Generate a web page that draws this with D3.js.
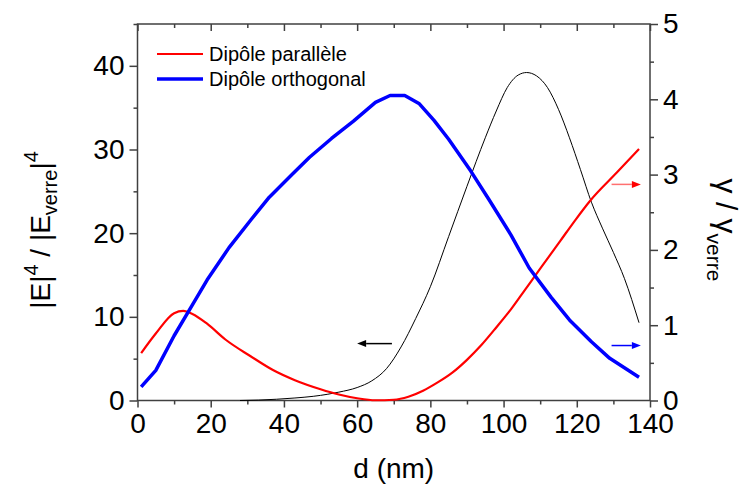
<!DOCTYPE html>
<html><head><meta charset="utf-8">
<script src="https://cdn.jsdelivr.net/npm/d3@7/dist/d3.min.js"></script>
<style>
body{margin:0;background:#fff;}
svg{display:block;font-family:"Liberation Sans",Arial,sans-serif;}
</style></head>
<body>
<svg id="chart" width="746" height="489"></svg>
<script>
// ---- data ----
const xTicks = [0,20,40,60,80,100,120,140];
const xMinor = [10,30,50,70,90,110,130];
const yLeftTicks = [0,10,20,30,40];
const yLeftMinor = [5,15,25,35,45];
const yRightTicks = [0,1,2,3,4,5];
const yRightMinor = [0.5,1.5,2.5,3.5,4.5];

// |E|^4/|Everre|^4 (left axis, black)
const fieldD = [28,33,38,43,48,52,55,60,64,68,72,76,80,85,90,95,98,101,104,106.3,109,112,115,118,121,124,127,130,133,137];
const fieldV = [0,0.05,0.15,0.3,0.5,0.75,1.0,1.55,2.35,3.8,6.4,9.8,13.6,19.6,25.6,31.4,34.6,37.4,38.9,39.2,38.8,37.4,34.8,31.4,27.6,23.7,20.6,17.7,14.6,9.3];

// gamma/gamma_verre, dipole parallel (right axis, red)
const paraD = [1,5,10,12.5,15,19,24,31,37,43,50,55,60,65,70,74,78,82,86,90,94,98,102,106,110,115.5,119.5,123.6,131,137];
const paraV = [0.63,0.89,1.16,1.19,1.15,1.02,0.81,0.585,0.405,0.27,0.15,0.08,0.03,0.003,0.01,0.05,0.13,0.24,0.37,0.54,0.74,0.97,1.21,1.48,1.75,2.12,2.39,2.65,3.03,3.34];

// gamma/gamma_verre, dipole orthogonal (right axis, blue)
const orthD = [1,5,10,15,19,25,31,36,42,47,53,59,65,69,73,77,81,85,91,96,102,107,113,118,124,129,137];
const orthV = [0.18,0.40,0.86,1.27,1.60,2.03,2.40,2.70,2.99,3.23,3.48,3.71,3.96,4.05,4.05,3.94,3.72,3.47,3.05,2.67,2.20,1.76,1.37,1.07,0.78,0.56,0.31];

const legendLabels = ["Dipôle parallèle","Dipôle orthogonal"];

// ---- layout ----
const svg = d3.select("#chart");
const L = 137.5, R = 650, T = 24, B = 400.5;
const x = d3.scaleLinear().domain([0,140]).range([L,R]);
const yL = d3.scaleLinear().domain([0,45]).range([B,T]);
const yR = d3.scaleLinear().domain([0,5]).range([B,T]);
const axisColor = "#404040";
const tickFont = 28;

function styleAxis(g){
  g.select(".domain").remove();
  g.selectAll(".tick line").attr("stroke",axisColor).attr("stroke-width",1.5);
  g.selectAll(".tick text").attr("fill","#000").attr("font-size",tickFont).attr("font-family","Liberation Sans, Arial, sans-serif");
}

// bottom
svg.append("g").attr("transform",`translate(0,${B})`)
  .call(d3.axisBottom(x).tickValues(xTicks).tickSize(7).tickPadding(6).tickFormat(d3.format("d"))).call(styleAxis);
svg.append("g").attr("transform",`translate(0,${B})`)
  .call(d3.axisBottom(x).tickValues(xMinor).tickSize(4).tickFormat("")).call(styleAxis);
// top (inward, no labels)
svg.append("g").attr("transform",`translate(0,${T})`)
  .call(d3.axisTop(x).tickValues(xTicks).tickSize(-7).tickFormat("")).call(styleAxis);
svg.append("g").attr("transform",`translate(0,${T})`)
  .call(d3.axisTop(x).tickValues(xMinor).tickSize(-4).tickFormat("")).call(styleAxis);
// left
svg.append("g").attr("transform",`translate(${L},0)`)
  .call(d3.axisLeft(yL).tickValues(yLeftTicks).tickSize(8).tickPadding(5).tickFormat(d3.format("d"))).call(styleAxis);
svg.append("g").attr("transform",`translate(${L},0)`)
  .call(d3.axisLeft(yL).tickValues(yLeftMinor).tickSize(4).tickFormat("")).call(styleAxis);
// right
svg.append("g").attr("transform",`translate(${R},0)`)
  .call(d3.axisRight(yR).tickValues(yRightTicks).tickSize(8).tickPadding(5).tickFormat(d3.format("d"))).call(styleAxis);
svg.append("g").attr("transform",`translate(${R},0)`)
  .call(d3.axisRight(yR).tickValues(yRightMinor).tickSize(4).tickFormat("")).call(styleAxis);

// frame
svg.append("rect").attr("x",L).attr("y",T).attr("width",R-L).attr("height",B-T)
  .attr("fill","none").attr("stroke",axisColor).attr("stroke-width",1.5);

// ---- curves ----
svg.append("defs").append("clipPath").attr("id","clip")
  .append("rect").attr("x",L).attr("y",T-2).attr("width",R-L).attr("height",B-T+4);
const plot = svg.append("g").attr("clip-path","url(#clip)");

const lineField = d3.line().x((d,i)=>x(fieldD[i])).y(d=>yL(d)).curve(d3.curveMonotoneX);
const linePara = d3.line().x((d,i)=>x(paraD[i])).y(d=>yR(d)).curve(d3.curveMonotoneX);
const lineOrth = d3.line().x((d,i)=>x(orthD[i])).y(d=>yR(d)).curve(d3.curveLinear);

plot.append("path").attr("d",lineField(fieldV)).attr("fill","none").attr("stroke","#000").attr("stroke-width",1);
plot.append("path").attr("d",linePara(paraV)).attr("fill","none").attr("stroke","#ff0000").attr("stroke-width",2.2);
plot.append("path").attr("d",lineOrth(orthV)).attr("fill","none").attr("stroke","#0000ff").attr("stroke-width",3.5).attr("stroke-linejoin","round");

// ---- arrows (annotations in data units) ----
const arrows = [
  {from:[69.5,6.8/9], to:[60,6.8/9], line:"#000", head:"#000"},
  {from:[129.5,2.87], to:[137.5,2.87], line:"#ff7070", head:"#ff0000"},
  {from:[129.5,0.73], to:[137.5,0.73], line:"#0000ff", head:"#0000ff"}
];
arrows.forEach(a=>{
  const x1=x(a.from[0]), y1=yR(a.from[1]), x2=x(a.to[0]), y2=yR(a.to[1]);
  const dir = Math.sign(x2-x1), hl=9, hw=3.5;
  svg.append("line").attr("x1",x1).attr("y1",y1).attr("x2",x2-dir*hl).attr("y2",y2)
    .attr("stroke",a.line).attr("stroke-width",1.5);
  svg.append("path").attr("d",`M${x2},${y2}L${x2-dir*hl},${y2-hw}L${x2-dir*hl},${y2+hw}Z`).attr("fill",a.head);
});

// ---- legend ----
const legColors = ["#ff0000","#0000ff"], legWidths=[2.2,3.5];
legendLabels.forEach((lab,i)=>{
  const yy = 54 + i*25;
  svg.append("line").attr("x1",157).attr("x2",203).attr("y1",yy).attr("y2",yy)
    .attr("stroke",legColors[i]).attr("stroke-width",legWidths[i]);
  svg.append("text").attr("x",209).attr("y",yy+7).attr("font-size",20).attr("fill","#000").text(lab);
});

// ---- axis titles ----
svg.append("text").attr("x",(L+R)/2).attr("y",478).attr("text-anchor","middle")
  .attr("font-size",28).text("d (nm)");

const lt = svg.append("text").attr("transform","translate(50,230) rotate(-90)")
  .attr("text-anchor","middle").attr("font-size",28);
lt.append("tspan").text("|E|");
lt.append("tspan").attr("font-size",20).attr("dy",-12).text("4");
lt.append("tspan").attr("dy",12).text(" / |E");
lt.append("tspan").attr("font-size",20).attr("dy",7).text("verre");
lt.append("tspan").attr("dy",-7).text("|");
lt.append("tspan").attr("font-size",20).attr("dy",-12).text("4");

const rt = svg.append("text").attr("transform","translate(716,230) rotate(90)")
  .attr("text-anchor","middle").attr("font-size",30);
rt.append("tspan").text("γ / γ");
rt.append("tspan").attr("font-size",21).attr("dy",9).text("verre");
</script>
</body></html>
